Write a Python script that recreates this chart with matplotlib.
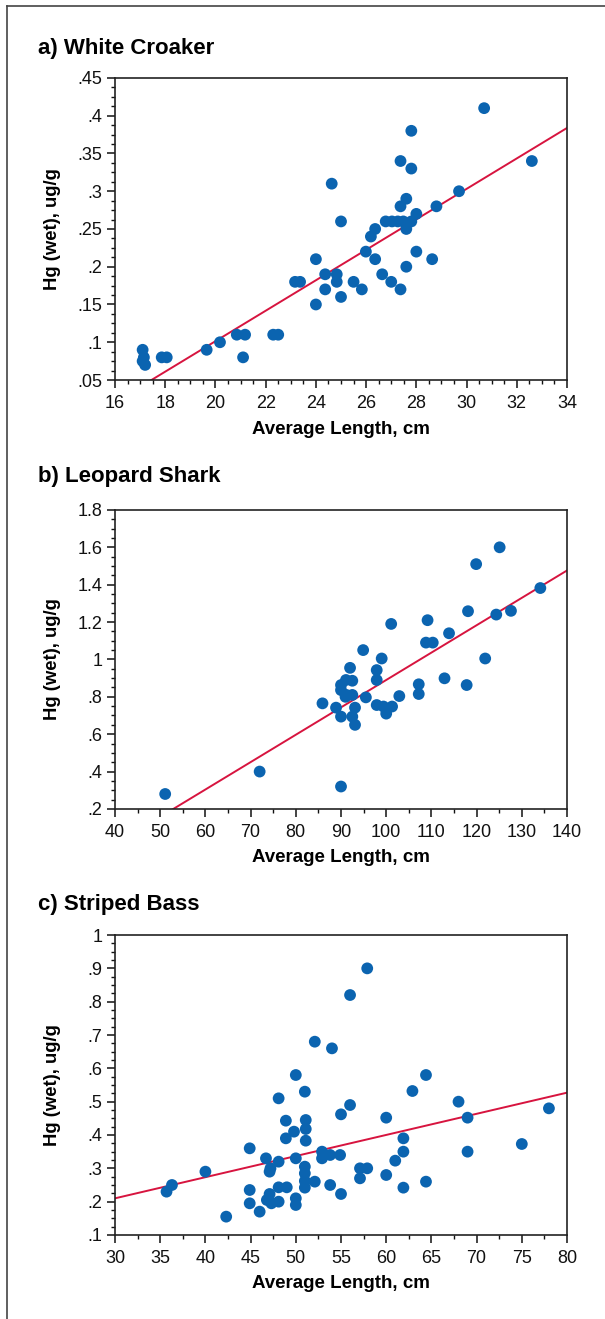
import matplotlib
matplotlib.use("Agg")
import matplotlib.pyplot as plt
from matplotlib.ticker import AutoMinorLocator
from matplotlib.lines import Line2D
import numpy as np

plt.rcParams['font.family'] = ['Liberation Sans', 'DejaVu Sans']

# a) White Croaker
croaker_len = [17.1, 17.15, 17.2, 17.1, 17.86, 18.06, 19.65, 20.18, 20.85, 21.18,
               21.1, 22.3, 22.5, 23.17, 23.37, 24.0, 24.0, 24.37, 24.37, 24.63,
               24.83, 24.83, 25.0, 25.0, 25.5, 25.83, 25.99, 26.19, 26.36, 26.36,
               26.64, 26.78, 27.0, 27.03, 27.26, 27.37, 27.37, 27.37, 27.48, 27.6,
               27.6, 27.6, 27.8, 27.8, 27.8, 28.0, 28.0, 28.63, 28.8, 29.7,
               30.7, 32.6]
croaker_hg = [.09, .08, .07, .075, .08, .08, .09, .10, .11, .11,
              .08, .11, .11, .18, .18, .21, .15, .19, .17, .31,
              .19, .18, .26, .16, .18, .17, .22, .24, .25, .21,
              .19, .26, .18, .26, .26, .34, .28, .17, .26, .29,
              .25, .20, .38, .33, .26, .27, .22, .21, .28, .30,
              .41, .34]
croaker_fit = (0.02017, -0.302)

# b) Leopard Shark
shark_len = [51.1, 72.0, 90.0, 85.9, 88.9, 90.0, 90.0, 90.0, 91.1, 91.0,
             92.5, 92.0, 91.2, 92.5, 92.5, 93.1, 93.1, 94.9, 95.5, 97.9,
             97.9, 97.9, 99.0, 99.4, 100.0, 101.3, 101.1, 102.9, 107.2, 107.2,
             108.8, 109.15, 110.3, 112.9, 113.9, 117.8, 118.1, 119.9, 121.9, 124.35,
             125.1, 127.6, 134.1]
shark_hg = [.28, .40, .32, .765, .742, .694, .863, .836, .89, .80,
            .886, .955, .81, .81, .694, .742, .65, 1.05, .797, .943,
            .89, .756, 1.005, .748, .71, .748, 1.19, .804, .867, .815,
            1.09, 1.21, 1.09, .899, 1.14, .863, 1.258, 1.51, 1.005, 1.24,
            1.60, 1.26, 1.382]
shark_fit = (0.01465, -0.575)

# c) Striped Bass
bass_len = [35.7, 36.3, 40.0, 42.3, 44.9, 44.9, 44.9, 46.0, 46.7, 47.2,
            47.1, 47.1, 46.8, 47.3, 48.1, 48.1, 48.1, 48.1, 48.9, 48.9,
            49.0, 49.8, 50.0, 50.0, 50.0, 50.0, 51.0, 51.1, 51.1, 51.1,
            51.0, 51.0, 51.0, 51.0, 52.1, 52.1, 52.9, 52.9, 53.8, 53.8,
            54.0, 54.9, 55.0, 55.0, 56.0, 56.0, 57.1, 57.1, 57.9, 57.9,
            60.0, 60.0, 61.0, 61.9, 61.9, 61.9, 62.9, 64.4, 64.4, 68.0,
            69.0, 69.0, 75.0, 78.0]
bass_hg = [.23, .25, .29, .155, .36, .235, .195, .17, .33, .30,
           .29, .223, .205, .195, .32, .243, .20, .51, .443, .39,
           .243, .41, .58, .33, .21, .19, .53, .445, .418, .383,
           .305, .285, .262, .242, .26, .68, .35, .33, .34, .25,
           .66, .34, .462, .223, .82, .49, .30, .27, .30, .90,
           .452, .28, .323, .39, .35, .242, .532, .58, .26, .50,
           .452, .35, .373, .48]
bass_fit = (0.00634, 0.0198)

panels = [
    ("a) White Croaker", croaker_len, croaker_hg, croaker_fit,
     (16, 34), list(range(16, 35, 2)), [str(v) for v in range(16, 35, 2)], 4,
     (.05, .45), [.05, .1, .15, .2, .25, .3, .35, .4, .45],
     ['.05', '.1', '.15', '.2', '.25', '.3', '.35', '.4', '.45'], 4),
    ("b) Leopard Shark", shark_len, shark_hg, shark_fit,
     (40, 140), list(range(40, 141, 10)), [str(v) for v in range(40, 141, 10)], 2,
     (.2, 1.8), [.2, .4, .6, .8, 1.0, 1.2, 1.4, 1.6, 1.8],
     ['.2', '.4', '.6', '.8', '1', '1.2', '1.4', '1.6', '1.8'], 4),
    ("c) Striped Bass", bass_len, bass_hg, bass_fit,
     (30, 80), list(range(30, 81, 5)), [str(v) for v in range(30, 81, 5)], 2,
     (.1, 1.0), [.1, .2, .3, .4, .5, .6, .7, .8, .9, 1.0],
     ['.1', '.2', '.3', '.4', '.5', '.6', '.7', '.8', '.9', '1'], 4),
]

rects = [[0.1901, 0.7119, 0.7471, 0.2290],
         [0.1901, 0.3867, 0.7471, 0.2267],
         [0.1901, 0.0637, 0.7471, 0.2274]]
title_y = [0.9636, 0.6391, 0.3146]

fig = plt.figure(figsize=(6.05, 13.19), dpi=100)

for (title, xs, ys, fit, xlim, xt, xtl, xminor, ylim, yt, ytl, yminor), rect, ty in zip(panels, rects, title_y):
    ax = fig.add_axes(rect)
    slope, icpt = fit
    lx = np.array(xlim, dtype=float)
    ax.plot(lx, slope * lx + icpt, color='#d7143f', lw=1.4, zorder=2)
    ax.scatter(xs, ys, s=72, color='#0b64b0', edgecolors='none', zorder=3)
    ax.set_xlim(xlim)
    ax.set_ylim(ylim)
    ax.set_xticks(xt)
    ax.set_xticklabels(xtl)
    ax.set_yticks(yt)
    ax.set_yticklabels(ytl)
    ax.xaxis.set_minor_locator(AutoMinorLocator(xminor))
    ax.yaxis.set_minor_locator(AutoMinorLocator(yminor))
    ax.tick_params(which='major', direction='out', length=6, width=1.1,
                   labelsize=13, colors='#111111')
    ax.tick_params(which='minor', direction='out', length=3, width=1.0, colors='#111111')
    ax.tick_params(axis='y', pad=3)
    ax.tick_params(axis='x', pad=5)
    for sp in ax.spines.values():
        sp.set_linewidth(1.2)
        sp.set_color('#222222')
    ax.set_xlabel("Average Length, cm", fontsize=13.5, fontweight='bold', va='center')
    ax.xaxis.set_label_coords(0.5, -49 / 300)
    ax.set_ylabel("Hg (wet), ug/g", fontsize=13.3, fontweight='bold', va='center')
    ax.yaxis.set_label_coords(-0.1394, 0.5)
    fig.text(0.0628, ty, title, fontsize=16, fontweight='bold', va='center', ha='left')

# page border (top and left edges)
fig.add_artist(Line2D([7 / 605, 1.0], [1 - 6 / 1319, 1 - 6 / 1319], color='#444444', lw=1.2))
fig.add_artist(Line2D([7 / 605, 7 / 605], [0.0, 1 - 6 / 1319], color='#444444', lw=1.2))

fig.savefig("out.png", dpi=100)
